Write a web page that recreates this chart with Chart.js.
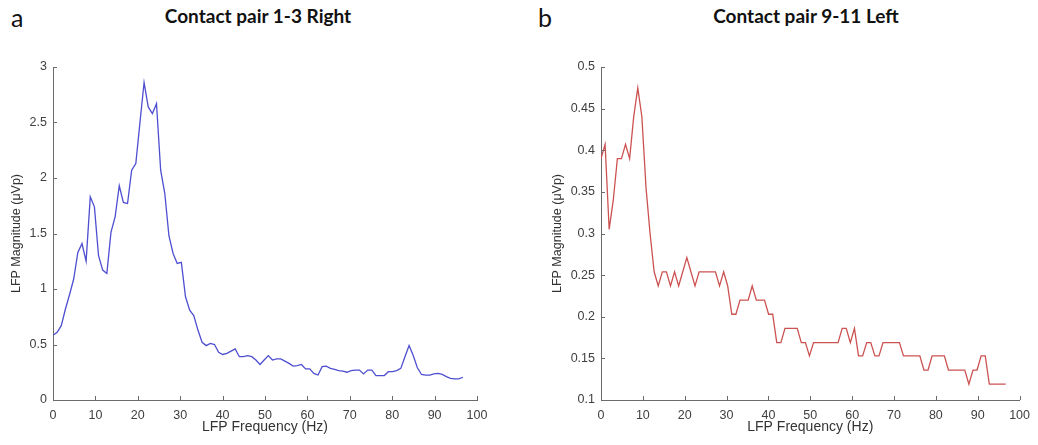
<!DOCTYPE html>
<html>
<head>
<meta charset="utf-8">
<script src="https://cdn.jsdelivr.net/npm/chart.js@4.4.1/dist/chart.umd.min.js"></script>
<style>
  html, body { margin: 0; padding: 0; background: #fff; }
  #wrap { position: relative; width: 1038px; height: 445px; overflow: hidden; }
  canvas { position: absolute; top: 0; }
  .panel { position: absolute; font-family: Lato, "Open Sans", sans-serif; color: #111; }
  .letter { font-size: 25px; top: 2px; }
  .title { font-size: 19px; font-weight: bold; top: 4px; width: 300px; text-align: center; }
</style>
</head>
<body>
<div id="wrap">
  <div class="panel letter" style="left:11px">a</div>
  <div class="panel title" style="left:108px">Contact pair 1-3 Right</div>
  <div class="panel letter" style="left:538px">b</div>
  <div class="panel title" style="left:656px">Contact pair 9-11 Left</div>
  <canvas id="right13" width="519" height="445" style="left:0"></canvas>
  <canvas id="left911" width="519" height="445" style="left:519px"></canvas>
</div>
<script>
// FFT bin centres (Hz), 250/256 Hz spacing
const freqHz = [
  0, 0.98, 1.95, 2.93, 3.91, 4.88, 5.86, 6.84, 7.81, 8.79,
  9.77, 10.74, 11.72, 12.70, 13.67, 14.65, 15.63, 16.60, 17.58, 18.55,
  19.53, 20.51, 21.48, 22.46, 23.44, 24.41, 25.39, 26.37, 27.34, 28.32,
  29.30, 30.27, 31.25, 32.23, 33.20, 34.18, 35.16, 36.13, 37.11, 38.09,
  39.06, 40.04, 41.02, 41.99, 42.97, 43.95, 44.92, 45.90, 46.88, 47.85,
  48.83, 49.80, 50.78, 51.76, 52.73, 53.71, 54.69, 55.66, 56.64, 57.62,
  58.59, 59.57, 60.55, 61.52, 62.50, 63.48, 64.45, 65.43, 66.41, 67.38,
  68.36, 69.34, 70.31, 71.29, 72.27, 73.24, 74.22, 75.20, 76.17, 77.15,
  78.13, 79.10, 80.08, 81.05, 82.03, 83.01, 83.98, 84.96, 85.94, 86.91,
  87.89, 88.87, 89.84, 90.82, 91.80, 92.77, 93.75, 94.73, 95.70, 96.68
];

// contact pair 1-3, right hemisphere (uVp)
const magRight13 = [
  0.584, 0.61, 0.67, 0.82, 0.95, 1.09, 1.33, 1.41, 1.25, 1.83,
  1.74, 1.30, 1.17, 1.14, 1.51, 1.65, 1.93, 1.78, 1.77, 2.07,
  2.13, 2.50, 2.86, 2.64, 2.58, 2.67, 2.07, 1.86, 1.48, 1.32,
  1.23, 1.24, 0.93, 0.81, 0.76, 0.63, 0.52, 0.49, 0.51, 0.50,
  0.43, 0.41, 0.42, 0.44, 0.46, 0.39, 0.39, 0.40, 0.39, 0.36,
  0.32, 0.36, 0.40, 0.36, 0.37, 0.37, 0.35, 0.33, 0.305, 0.31,
  0.32, 0.28, 0.28, 0.24, 0.225, 0.30, 0.305, 0.285, 0.275, 0.265,
  0.26, 0.25, 0.265, 0.27, 0.27, 0.235, 0.27, 0.27, 0.22, 0.22,
  0.22, 0.255, 0.255, 0.265, 0.285, 0.39, 0.49, 0.40, 0.29, 0.23,
  0.225, 0.225, 0.235, 0.24, 0.23, 0.21, 0.195, 0.19, 0.19, 0.205
];

// contact pair 9-11, left hemisphere (uVp)
const magLeft911 = [
  0.39, 0.407, 0.305, 0.34, 0.39, 0.39, 0.407, 0.39, 0.44, 0.475,
  0.44, 0.356, 0.30, 0.254, 0.237, 0.254, 0.254, 0.237, 0.254, 0.237,
  0.254, 0.271, 0.254, 0.237, 0.254, 0.254, 0.254, 0.254, 0.254, 0.237,
  0.254, 0.237, 0.203, 0.203, 0.22, 0.22, 0.22, 0.237, 0.22, 0.22,
  0.22, 0.203, 0.203, 0.169, 0.169, 0.186, 0.186, 0.186, 0.186, 0.169,
  0.169, 0.153, 0.169, 0.169, 0.169, 0.169, 0.169, 0.169, 0.169, 0.186,
  0.186, 0.169, 0.186, 0.153, 0.153, 0.169, 0.169, 0.153, 0.153, 0.169,
  0.169, 0.169, 0.169, 0.169, 0.153, 0.153, 0.153, 0.153, 0.153, 0.136,
  0.136, 0.153, 0.153, 0.153, 0.153, 0.136, 0.136, 0.136, 0.136, 0.136,
  0.119, 0.136, 0.136, 0.153, 0.153, 0.119, 0.119, 0.119, 0.119, 0.119
];

const xTicks = [0, 10, 20, 30, 40, 50, 60, 70, 80, 90, 100];
const yTicksRight13 = [0, 0.5, 1, 1.5, 2, 2.5, 3];
const yTicksLeft911 = [0.1, 0.15, 0.2, 0.25, 0.3, 0.35, 0.4, 0.45, 0.5];

const AXIS = '#6b6b6b';
const SANS = '"Liberation Sans", Arial, sans-serif';
const TICK_FONT = { family: SANS, size: 12.5 };

// MATLAB-style tick marks pointing into the axes
const inwardTicks = {
  id: 'inwardTicks',
  afterDraw(chart) {
    const { ctx, chartArea: a, scales: { x, y } } = chart;
    ctx.save();
    ctx.strokeStyle = AXIS;
    ctx.lineWidth = 1;
    ctx.beginPath();
    x.ticks.forEach(t => {
      const px = Math.round(x.getPixelForValue(t.value)) + 0.5;
      ctx.moveTo(px, a.bottom);
      ctx.lineTo(px, a.bottom - 4);
    });
    y.ticks.forEach(t => {
      const py = Math.round(y.getPixelForValue(t.value)) + 0.5;
      ctx.moveTo(a.left, py);
      ctx.lineTo(a.left + 4, py);
    });
    ctx.stroke();
    ctx.restore();
  }
};

function spectrum(id, values, color, yTicks, yWidth, yTitlePad, rightPad) {
  const points = freqHz.map((f, i) => ({ x: f, y: values[i] }));
  return new Chart(document.getElementById(id), {
    type: 'line',
    data: {
      datasets: [{
        data: points,
        borderColor: color,
        borderWidth: 1.3,
        pointRadius: 0,
        tension: 0,
        fill: false
      }]
    },
    options: {
      responsive: false,
      animation: false,
      devicePixelRatio: 1,
      layout: { padding: { left: 0, top: 67, right: rightPad, bottom: 0 } },
      plugins: { legend: { display: false }, tooltip: { enabled: false } },
      scales: {
        x: {
          type: 'linear',
          min: 0, max: 100,
          afterBuildTicks: s => { s.ticks = xTicks.map(v => ({ value: v })); },
          afterFit: s => { s.height = 45; },
          grid: { display: false, drawTicks: false },
          border: { display: true, color: AXIS, width: 1 },
          ticks: { color: '#404040', font: TICK_FONT, padding: 8, maxRotation: 0 },
          title: {
            display: true, text: 'LFP Frequency (Hz)', color: '#333',
            font: { family: SANS, size: 14 },
            padding: { top: 0, bottom: 9 }
          }
        },
        y: {
          type: 'linear',
          min: yTicks[0], max: yTicks[yTicks.length - 1],
          afterBuildTicks: s => { s.ticks = yTicks.map(v => ({ value: v })); },
          afterFit: s => { s.width = yWidth; },
          grid: { display: false, drawTicks: false },
          border: { display: true, color: AXIS, width: 1 },
          ticks: {
            color: '#404040', font: TICK_FONT, padding: 6,
            callback: v => String(+v.toFixed(2))
          },
          title: {
            display: true, text: 'LFP Magnitude (\u03bcVp)', color: '#333',
            font: { family: SANS, size: 12.5 },
            padding: { top: yTitlePad, bottom: 0 }
          }
        }
      }
    },
    plugins: [inwardTicks]
  });
}

spectrum('right13', magRight13, 'rgb(78,78,208)', yTicksRight13, 53, 9, 42);
spectrum('left911', magLeft911, 'rgb(204,82,82)', yTicksLeft911, 82, 31, 14);
</script>
</body>
</html>
